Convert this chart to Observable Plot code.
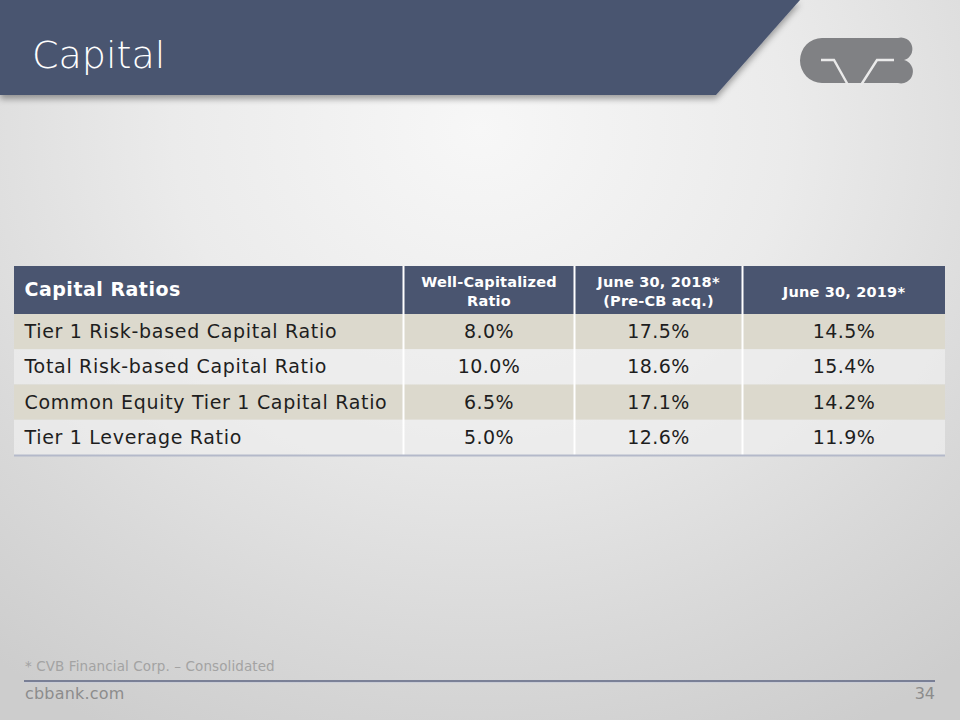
<!DOCTYPE html>
<html>
<head>
<meta charset="utf-8">
<script src="https://cdn.jsdelivr.net/npm/d3@7"></script>
<script src="https://cdn.jsdelivr.net/npm/@observablehq/plot@0.6"></script>
<style>
  html, body { margin: 0; padding: 0; }
  #slide {
    position: relative; width: 960px; height: 720px; overflow: hidden;
    background: radial-gradient(ellipse 80% 95% at 50% 18%, #f7f7f7 0%, #ebebeb 40%, #d9d9d9 75%, #cdcdcd 100%);
    font-family: "DejaVu Sans", sans-serif;
  }
  #decor { position: absolute; left: 0; top: 0; }
  #table { position: absolute; left: 0; top: 265px; }
</style>
</head>
<body>
<div id="slide">
  <svg id="decor" width="960" height="720">
    <defs>
      <filter id="sh" x="-5%" y="-10%" width="115%" height="140%">
        <feDropShadow dx="0" dy="4" stdDeviation="3" flood-color="#000" flood-opacity="0.35"/>
      </filter>
    </defs>
    <polygon points="0,0 800,0 716,95 0,95" fill="#4a5570" filter="url(#sh)"/>
    <text x="32" y="68" fill="#ffffff" font-size="38" font-family="'DejaVu Sans', sans-serif" style="font-weight:200">Capital</text>
    <path fill="#808184" d="M 822 38 H 898 A 11 11 0 0 1 904 60 A 11.5 11.5 0 0 1 898 83 H 822 A 22 22.5 0 0 1 822 38 Z"/>
    <g fill="none" stroke="#eaeaea" stroke-width="2.4" stroke-linejoin="miter">
      <polyline points="821,60 834,60 848,85"/>
      <polyline points="861,85 877,60 894,60"/>
    </g>
    <text x="25" y="671" fill="#a3a3a3" font-size="13.5" letter-spacing="0.1">* CVB Financial Corp. – Consolidated</text>
    <line x1="24" x2="935" y1="681" y2="681" stroke="#5c6482" stroke-width="1.5"/>
    <line x1="24" x2="935" y1="682.5" y2="682.5" stroke="#c9ccd6" stroke-width="1"/>
    <text x="25" y="699" fill="#8c8c8c" font-size="16" letter-spacing="0.2">cbbank.com</text>
    <text x="935" y="699" fill="#8c8c8c" font-size="16" text-anchor="end">34</text>
  </svg>
  <div id="table"></div>
</div>
<script>
// ---- data ----
const headerLabels = ["Capital Ratios", "Well-Capitalized\nRatio", "June 30, 2018*\n(Pre-CB acq.)", "June 30, 2019*"];
const ratioNames = ["Tier 1 Risk-based Capital Ratio", "Total Risk-based Capital Ratio", "Common Equity Tier 1 Capital Ratio", "Tier 1 Leverage Ratio"];
const wellCapitalized = [8.0, 10.0, 6.5, 5.0];
const june2018 = [17.5, 18.6, 17.1, 12.6];
const june2019 = [14.5, 15.4, 14.2, 11.9];

// ---- layout (not data) ----
const colWidths = [389, 171, 168, 203];
const headerH = 48, rowH = 35.25;
const colEdges = colWidths.reduce((a, w) => (a.push(a[a.length - 1] + w), a), [0]);
const totalW = colEdges[colEdges.length - 1];
const totalH = headerH + rowH * ratioNames.length;

const valueCols = [wellCapitalized, june2018, june2019];

const headerCells = headerLabels.map((label, c) => ({
  label, x1: colEdges[c], x2: colEdges[c + 1], y1: 0, y2: headerH, col: c
}));
const bodyCells = [];
ratioNames.forEach((name, r) => {
  const y1 = headerH + r * rowH, y2 = y1 + rowH;
  bodyCells.push({ text: name, x1: colEdges[0], x2: colEdges[1], y1, y2, r, col: 0 });
  valueCols.forEach((vals, k) => {
    bodyCells.push({ text: vals[r].toFixed(1) + "%", x1: colEdges[k + 1], x2: colEdges[k + 2], y1, y2, r, col: k + 1 });
  });
});
const rowBands = ratioNames.map((n, r) => ({ y1: headerH + r * rowH, y2: headerH + (r + 1) * rowH, r }));

const plot = Plot.plot({
  width: 960,
  height: totalH + 4,
  marginLeft: 14, marginRight: 960 - 14 - totalW, marginTop: 1, marginBottom: 3,
  x: { domain: [0, totalW], axis: null },
  y: { domain: [0, totalH], range: [1, totalH + 1], axis: null },
  style: { background: "transparent", fontFamily: "'DejaVu Sans', sans-serif", overflow: "visible" },
  marks: [
    Plot.rect(headerCells, { x1: "x1", x2: "x2", y1: "y1", y2: "y2", fill: "#4a5570" }),
    Plot.rect(rowBands, { x1: 0, x2: totalW, y1: "y1", y2: "y2", fill: d => d.r % 2 === 0 ? "#dcd9cd" : "#ededed", fillOpacity: d => d.r % 2 === 0 ? 1 : 0.75 }),
    Plot.ruleX(colEdges.slice(1, -1), { y1: 0, y2: totalH, stroke: "#ffffff", strokeWidth: 2 }),
    Plot.ruleY([totalH], { x1: 0, x2: totalW, stroke: "#b4b9ca", strokeWidth: 2 }),
    Plot.text(headerCells.filter(d => d.col === 0), {
      x: d => d.x1 + 10, y: d => (d.y1 + d.y2) / 2 - 1, text: "label", textAnchor: "start",
      fill: "white", fontSize: 19, fontWeight: "bold"
    }),
    Plot.text(headerCells.filter(d => d.col > 0), {
      x: d => (d.x1 + d.x2) / 2, y: d => (d.y1 + d.y2) / 2, text: "label", textAnchor: "middle",
      fill: "white", fontSize: 14.5, fontWeight: "bold", lineHeight: 1.3
    }),
    Plot.text(bodyCells.filter(d => d.col === 0), {
      x: d => d.x1 + 10, y: d => (d.y1 + d.y2) / 2, text: "text", textAnchor: "start",
      fill: "#1e1e1e", fontSize: 19
    }),
    Plot.text(bodyCells.filter(d => d.col > 0), {
      x: d => (d.x1 + d.x2) / 2, y: d => (d.y1 + d.y2) / 2, text: "text", textAnchor: "middle",
      fill: "#1e1e1e", fontSize: 19
    })
  ]
});
// letter spacing (style only) per text mark, in mark order
const spacings = ["0.5px", "0.2px", "0.7px", "0.4px"];
plot.querySelectorAll('g[aria-label="text"]').forEach((g, i) => {
  g.setAttribute("letter-spacing", spacings[i] || "0");
  g.style.letterSpacing = spacings[i] || "0";
});
document.getElementById("table").appendChild(plot);
</script>
</body>
</html>
